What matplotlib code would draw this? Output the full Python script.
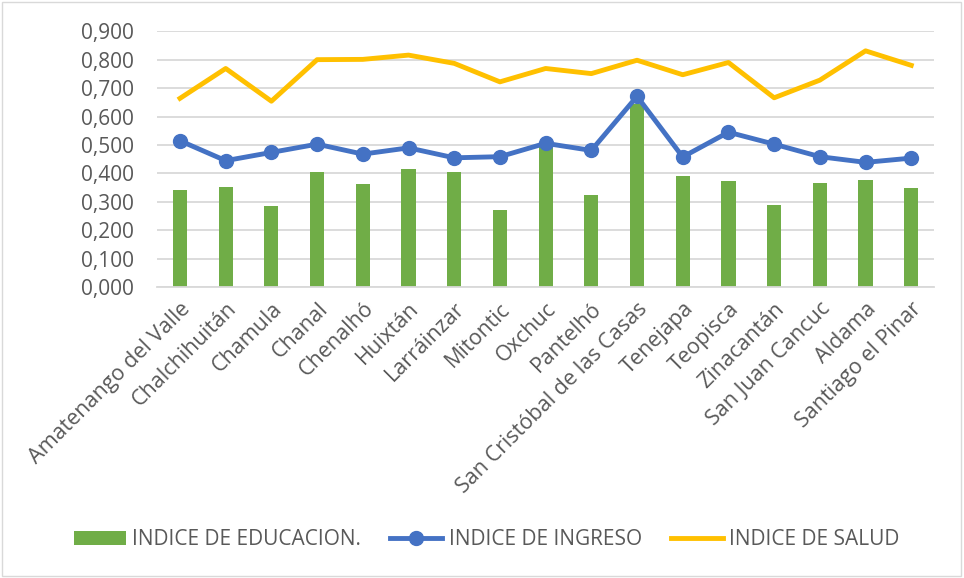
import numpy as np
import matplotlib.pyplot as plt
from matplotlib.ticker import FuncFormatter

municipios = ["Amatenango del Valle", "Chalchihuitán", "Chamula", "Chanal", "Chenalhó",
              "Huixtán", "Larráinzar", "Mitontic", "Oxchuc", "Pantelhó",
              "San Cristóbal de las Casas", "Tenejapa", "Teopisca", "Zinacantán",
              "San Juan Cancuc", "Aldama", "Santiago el Pinar"]
educacion = [0.341, 0.353, 0.285, 0.404, 0.362, 0.416, 0.404, 0.271, 0.500,
             0.325, 0.645, 0.390, 0.374, 0.290, 0.368, 0.377, 0.349]
ingreso = [0.515, 0.445, 0.474, 0.503, 0.468, 0.490, 0.455, 0.459, 0.506,
           0.481, 0.671, 0.458, 0.545, 0.503, 0.459, 0.439, 0.454]
salud = [0.664, 0.769, 0.654, 0.800, 0.801, 0.816, 0.787, 0.722, 0.769,
         0.751, 0.798, 0.747, 0.790, 0.666, 0.728, 0.831, 0.780]

plt.rcParams['font.family'] = ['Open Sans', 'DejaVu Sans']

fig = plt.figure(figsize=(9.64, 5.78), dpi=100)
ax = fig.add_axes([0.163, 0.503, 0.806, 0.443])

x = np.arange(len(municipios))
barras = ax.bar(x, educacion, width=0.31, color='#70AD47', zorder=2)
l_ing, = ax.plot(x, ingreso, color='#4472C4', lw=3.5, marker='o', markersize=10, zorder=3)
l_sal, = ax.plot(x, salud, color='#FFC000', lw=3.5, zorder=3)

ax.set_xlim(-0.5, len(municipios) - 0.5)
ax.set_ylim(0, 0.9)
ax.set_yticks(np.arange(0, 0.91, 0.1))
ax.yaxis.set_major_formatter(FuncFormatter(lambda v, p: f"{v:.3f}".replace('.', ',')))
ax.grid(axis='y', color='#D9D9D9', lw=1.3, zorder=0)
ax.set_axisbelow(True)
for s in ['top', 'right', 'left']:
    ax.spines[s].set_visible(False)
ax.spines['bottom'].set_color('#D9D9D9')
ax.spines['bottom'].set_linewidth(1.3)
ax.tick_params(length=0, colors='#595959', pad=8)
ax.tick_params(axis='y', labelsize=15, pad=17)
ax.set_xticks(x)
ax.set_xticklabels(municipios, rotation=45, ha='right', rotation_mode='anchor', fontsize=15.5)

fig.legend([barras, l_ing, l_sal],
           ['INDICE DE EDUCACION.', 'INDICE DE INGRESO', 'INDICE DE SALUD'],
           loc='center', bbox_to_anchor=(0.505, 0.066), ncol=3, frameon=False,
           fontsize=15, labelcolor='#595959', handlelength=2.5, handletextpad=0.3,
           columnspacing=1.4)

fig.patches.append(plt.Rectangle((0.002, 0.003), 0.995, 0.993, transform=fig.transFigure,
                                 fill=False, edgecolor='#D9D9D9', lw=1))

plt.savefig("out.png", dpi=100)
